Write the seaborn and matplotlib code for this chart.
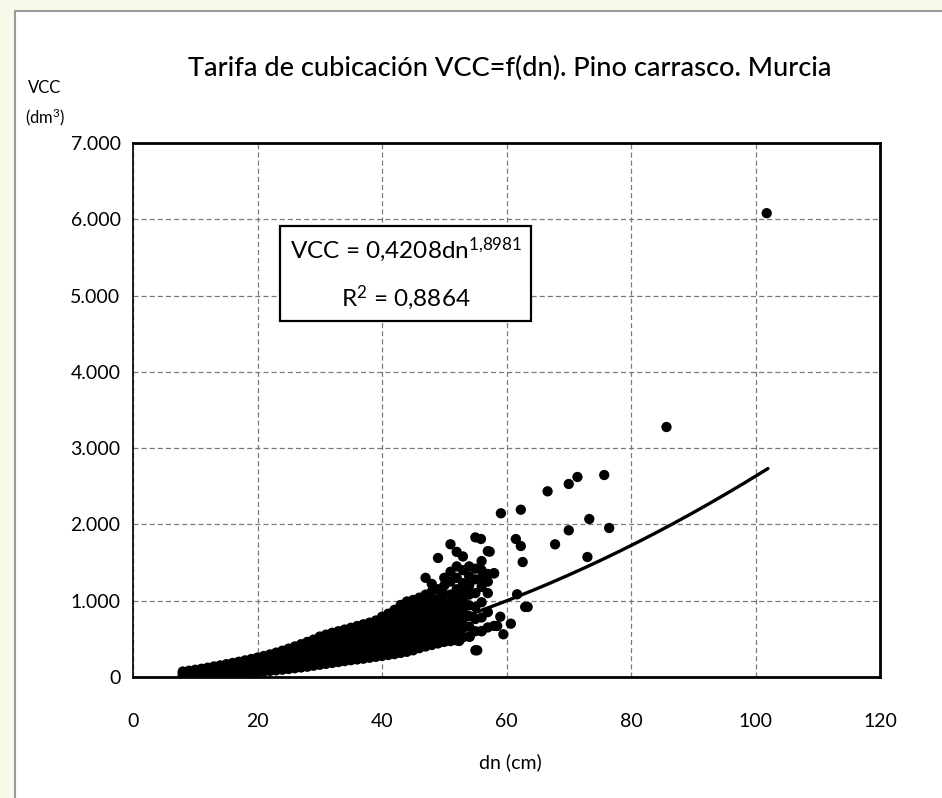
import numpy as np
import pandas as pd
import seaborn as sns
import matplotlib.pyplot as plt
from matplotlib.patches import Rectangle
from matplotlib.ticker import FuncFormatter, MultipleLocator

# dense part of the cloud: one list of VCC (dm3) per diameter class dn (cm)
dn_classes = list(range(8, 59))
vcc_by_dn = [
    [8, 30, 55, 72],                    # 8
    [10, 35, 60, 82],
    [14, 40, 68, 95],                   # 10
    [18, 48, 80, 108],
    [22, 55, 90, 122],
    [26, 62, 100, 138],
    [30, 70, 112, 152],
    [35, 80, 125, 168],                 # 15
    [40, 90, 138, 184],
    [46, 100, 150, 200],
    [52, 110, 165, 218],
    [58, 120, 180, 236],
    [65, 130, 195, 255],                # 20
    [72, 142, 210, 275],
    [80, 150, 220, 296],
    [88, 160, 235, 320],
    [96, 170, 250, 345],
    [105, 180, 260, 330, 372],          # 25
    [115, 185, 255, 325, 400],
    [125, 198, 270, 345, 430],
    [135, 210, 285, 360, 460],
    [148, 222, 300, 380, 420, 490],
    [160, 225, 290, 355, 420, 485, 530],   # 30
    [172, 240, 308, 376, 444, 512, 555],
    [184, 252, 320, 388, 456, 524, 580],
    [196, 265, 335, 405, 475, 545, 600],
    [208, 278, 348, 418, 488, 558, 622],
    [220, 290, 362, 434, 506, 578, 645],   # 35
    [230, 302, 374, 446, 518, 590, 668],
    [240, 314, 388, 462, 536, 610, 690],
    [252, 328, 404, 480, 556, 632, 712],
    [264, 340, 418, 496, 574, 652, 740],
    [276, 352, 428, 504, 580, 656, 732, 790],   # 40
    [288, 366, 444, 522, 600, 678, 756, 830],
    [300, 380, 460, 540, 620, 700, 780, 880],
    [315, 395, 475, 555, 635, 715, 795, 870, 945],
    [330, 410, 490, 570, 650, 730, 810, 900, 990],
    [350, 430, 510, 590, 670, 750, 830, 920, 1010],   # 45
    [378, 458, 538, 618, 698, 778, 858, 950, 1040],
    [400, 480, 560, 640, 720, 800, 880, 980, 1080, 1300],
    [420, 500, 580, 660, 740, 820, 900, 1000, 1120, 1220],
    [440, 520, 600, 680, 760, 840, 920, 1020, 1150, 1560],
    [460, 540, 620, 700, 790, 880, 970, 1080, 1200, 1300],   # 50
    [470, 560, 660, 760, 860, 960, 1080, 1250, 1380, 1740],
    [480, 580, 690, 800, 910, 1030, 1150, 1300, 1450, 1640],
    [520, 640, 760, 880, 1000, 1120, 1230, 1400, 1580],
    [530, 660, 800, 940, 1080, 1200, 1320, 1450],
    [350, 600, 760, 920, 1100, 1280, 1420, 1830],   # 55
    [600, 780, 980, 1180, 1300, 1400, 1520],
    [650, 850, 1100, 1250, 1350, 1650],
    [670, 1360],
]

# scattered large trees
big_dn = [59.1, 62.3, 66.6, 70.0, 71.4, 75.7, 85.7, 101.8, 73.3, 76.5, 70.0, 67.8,
          61.5, 62.3, 62.6, 73.0, 55.9, 57.3, 63.0, 61.7, 63.4, 60.7, 59.5, 58.5,
          55.3, 52.4, 56.0, 58.0, 54.1, 59.0]
big_vcc = [2146, 2193, 2434, 2530, 2622, 2648, 3277, 6080, 2071, 1953, 1923, 1739,
           1809, 1717, 1507, 1573, 1809, 1643, 918, 1084, 918, 699, 560, 669,
           350, 472, 603, 1359, 528, 790]

# power trendline shown on the chart
fit_a = 0.4208
fit_b = 1.8981
fit_r2 = 0.8864

cloud = pd.DataFrame({"dn": dn_classes, "vcc": vcc_by_dn}).explode("vcc")
big = pd.DataFrame({"dn": big_dn, "vcc": big_vcc})
trees = pd.concat([cloud, big], ignore_index=True).astype(float)

dn_line = np.linspace(7.6, 102, 200)
trend = pd.DataFrame({"dn": dn_line, "vcc": fit_a * dn_line ** fit_b})

sns.set_theme(style="white")
plt.rcParams['font.family'] = ['Liberation Sans Narrow', 'Lato', 'DejaVu Sans']
plt.rcParams['mathtext.default'] = 'regular'
plt.rcParams['text.color'] = 'black'

fig = plt.figure(figsize=(9.42, 7.98), dpi=100)
fig.patch.set_facecolor('#f6fce9')
fig.patches.append(Rectangle((15/942, -0.01), 1.0, 1 - 11/798 + 0.01, transform=fig.transFigure,
                             facecolor='white', edgecolor='#9a9a9a', lw=1.5, zorder=-5))
ax = fig.add_axes([133/942, 1 - 677/798, 747/942, 534/798])

sns.scatterplot(data=trees, x="dn", y="vcc", ax=ax, color='black', s=55,
                edgecolor='none', linewidth=0, legend=False, zorder=3)
sns.lineplot(data=trend, x="dn", y="vcc", ax=ax, color='black', lw=2.4,
             sort=False, zorder=4)

ax.set_xlim(0, 120)
ax.set_ylim(0, 7000)
ax.xaxis.set_major_locator(MultipleLocator(20))
ax.yaxis.set_major_locator(MultipleLocator(1000))
ax.yaxis.set_major_formatter(FuncFormatter(lambda v, p: f"{int(v):,}".replace(',', '.')))
ax.grid(True, color='#7a7a7a', linestyle=(0, (4, 2.5)), lw=0.9)
ax.set_axisbelow(True)
for side in ['top', 'right', 'bottom']:
    ax.spines[side].set_linewidth(2)
ax.spines['left'].set_linewidth(1.2)
for sp in ax.spines.values():
    sp.set_color('black')
ax.tick_params(axis='both', direction='out', length=6, width=1.2, colors='black',
               labelsize=14)
ax.tick_params(axis='x', pad=20)
ax.tick_params(axis='y', pad=3)
ax.set_xlabel("")
ax.set_ylabel("")

ax.text(43.8, 5290, f"VCC = 0,4208dn$^{{1{{,}}8981}}$\nR$^2$ = 0,8864",
        ha='center', va='center', fontsize=17.5, linespacing=1.85, zorder=5,
        bbox=dict(boxstyle='square,pad=0.38', facecolor='white', edgecolor='black', lw=1.6))

fig.text(510/942, 1 - 68/798, "Tarifa de cubicación VCC=f(dn). Pino carrasco. Murcia",
         ha='center', va='center', fontsize=19.5, fontweight='medium')
fig.text(45/942, 1 - 104/798, "VCC\n(dm$^3$)", ha='center', va='center', fontsize=12,
         linespacing=1.6)
fig.text(510/942, 1 - 762/798, "dn (cm)", ha='center', va='center', fontsize=14)

fig.savefig("out.png", dpi=100, facecolor=fig.get_facecolor())
